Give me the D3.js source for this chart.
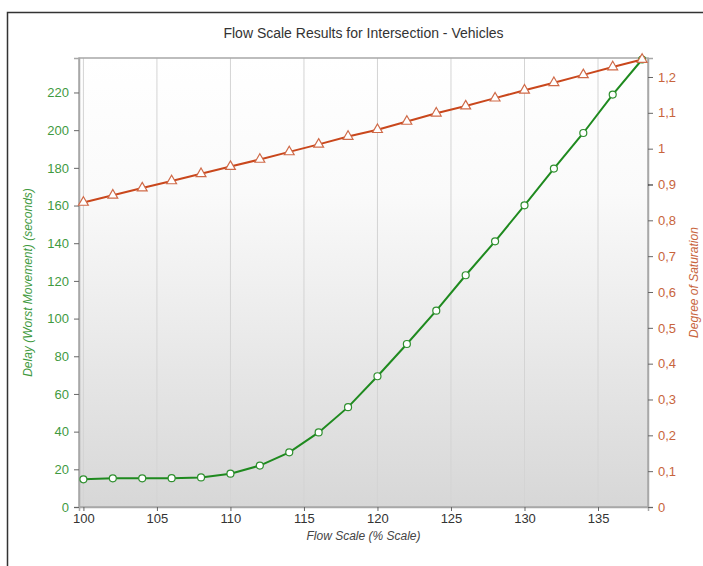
<!DOCTYPE html>
<html>
<head>
<meta charset="utf-8">
<script src="https://cdn.jsdelivr.net/npm/d3@7"></script>
<style>
  body { margin: 0; background: #fff; }
  text { font-family: "Liberation Sans", Arial, sans-serif; }
</style>
</head>
<body>
<div id="chart"></div>
<script>
const flowScale = [100, 102, 104, 106, 108, 110, 112, 114, 116, 118,
  120, 122, 124, 126, 128, 130, 132, 134, 136, 138];
const delay = [14.7, 15.2, 15.2, 15.3, 15.7, 17.7, 22, 29, 39.6, 53,
  69.4, 86.5, 104.2, 123, 141, 160.1, 179.6, 198.5, 218.9, 237.5];
const saturation = [0.85, 0.87, 0.89, 0.91, 0.93, 0.95, 0.97, 0.991, 1.012, 1.034,
  1.053, 1.076, 1.099, 1.119, 1.141, 1.163, 1.184, 1.206, 1.228, 1.249];
const xTicks = [100, 105, 110, 115, 120, 125, 130, 135];
const delayTicks = [0, 20, 40, 60, 80, 100, 120, 140, 160, 180, 200, 220];
const satTicks = [0, 0.1, 0.2, 0.3, 0.4, 0.5, 0.6, 0.7, 0.8, 0.9, 1, 1.1, 1.2];

const width = 703;
const height = 566;
const margin = { top: 58, right: 55, bottom: 59, left: 79 };
const innerW = width - margin.left - margin.right;
const innerH = height - margin.top - margin.bottom;

const green = '#1f8a1f';
const greenText = '#3f9a3f';
const orange = '#c9471c';
const orangeText = '#c8643c';

const svg = d3.select('#chart')
  .append('svg')
  .attr('width', width)
  .attr('height', height);

// outer frame
svg.append('rect')
  .attr('x', 7.5)
  .attr('y', 12.5)
  .attr('width', width)
  .attr('height', height)
  .attr('fill', 'none')
  .attr('stroke', '#333')
  .attr('stroke-width', 1.5);

const defs = svg.append('defs');
const bg = defs.append('linearGradient')
  .attr('id', 'plotBg')
  .attr('x1', '0%').attr('y1', '0%')
  .attr('x2', '0%').attr('y2', '100%');
bg.append('stop').attr('offset', '0%').attr('stop-color', '#ffffff');
bg.append('stop').attr('offset', '30%').attr('stop-color', '#fafafa');
bg.append('stop').attr('offset', '100%').attr('stop-color', '#d7d7d7');

const x = d3.scaleLinear().domain([99.7, 138.4]).range([0, innerW]);
const yL = d3.scaleLinear().domain([0, 238.3]).range([innerH, 0]);
const yR = d3.scaleLinear().domain([0, 1.253]).range([innerH, 0]);

const g = svg.append('g')
  .attr('transform', `translate(${margin.left},${margin.top})`);

g.append('rect')
  .attr('width', innerW)
  .attr('height', innerH)
  .attr('fill', 'url(#plotBg)');

// vertical grid
g.selectAll('.grid')
  .data(xTicks)
  .enter()
  .append('line')
  .attr('x1', (d) => x(d))
  .attr('x2', (d) => x(d))
  .attr('y1', 0)
  .attr('y2', innerH)
  .attr('stroke', '#d4d4d4');

g.append('rect')
  .attr('width', innerW)
  .attr('height', innerH)
  .attr('fill', 'none')
  .attr('stroke', '#a8a8a8')
  .attr('stroke-width', 1.5);

// axes
const xAxis = g.append('g')
  .attr('transform', `translate(0,${innerH})`)
  .call(d3.axisBottom(x).tickValues(xTicks).tickSize(4).tickPadding(3));
xAxis.select('.domain').attr('stroke', '#a8a8a8').attr('stroke-width', 1.5);
xAxis.selectAll('.tick line').attr('stroke', '#666');
xAxis.selectAll('.tick text').attr('fill', '#333').style('font-size', '13px');

const leftAxis = g.append('g')
  .call(d3.axisLeft(yL).tickValues(delayTicks).tickSize(5).tickPadding(5));
leftAxis.select('.domain').attr('stroke', '#a8a8a8').attr('stroke-width', 1.5);
leftAxis.selectAll('.tick line').attr('stroke', '#666');
leftAxis.selectAll('.tick text').attr('fill', greenText).style('font-size', '13px');

const fmtComma = (d) => String(d).replace('.', ',');
const rightAxis = g.append('g')
  .attr('transform', `translate(${innerW},0)`)
  .call(d3.axisRight(yR).tickValues(satTicks).tickFormat(fmtComma).tickSize(5).tickPadding(5));
rightAxis.select('.domain').attr('stroke', '#a8a8a8').attr('stroke-width', 1.5);
rightAxis.selectAll('.tick line').attr('stroke', (d) => (d === 0.9 ? '#111' : '#666'));
rightAxis.selectAll('.tick text').attr('fill', orangeText).style('font-size', '13px');

// delay series
const delayData = flowScale.map((f, i) => ({ f, v: delay[i] }));
const satData = flowScale.map((f, i) => ({ f, v: saturation[i] }));

g.append('path')
  .datum(delayData)
  .attr('fill', 'none')
  .attr('stroke', green)
  .attr('stroke-width', 2)
  .attr('d', d3.line().x((d) => x(d.f)).y((d) => yL(d.v)));

g.selectAll('.dot')
  .data(delayData)
  .enter()
  .append('circle')
  .attr('cx', (d) => x(d.f))
  .attr('cy', (d) => yL(d.v))
  .attr('r', 3.5)
  .attr('fill', '#fff')
  .attr('stroke', '#2e8f2e')
  .attr('stroke-width', 1.2);

// saturation series
g.append('path')
  .datum(satData)
  .attr('fill', 'none')
  .attr('stroke', orange)
  .attr('stroke-width', 2)
  .attr('d', d3.line().x((d) => x(d.f)).y((d) => yR(d.v)));

const tri = d3.symbol().type(d3.symbolTriangle).size(42);
g.selectAll('.tri')
  .data(satData)
  .enter()
  .append('path')
  .attr('transform', (d) => `translate(${x(d.f)},${yR(d.v)})`)
  .attr('d', tri)
  .attr('fill', '#fff')
  .attr('stroke', '#cf6a48')
  .attr('stroke-width', 1.2);

// titles
svg.append('text')
  .attr('x', margin.left + innerW / 2)
  .attr('y', 38)
  .attr('text-anchor', 'middle')
  .attr('fill', '#333')
  .style('font-size', '14px')
  .text('Flow Scale Results for Intersection - Vehicles');

svg.append('text')
  .attr('x', margin.left + innerW / 2)
  .attr('y', 540)
  .attr('text-anchor', 'middle')
  .attr('fill', '#444')
  .style('font-size', '12px')
  .style('font-style', 'italic')
  .text('Flow Scale (% Scale)');

svg.append('text')
  .attr('transform', `translate(32,${margin.top + innerH / 2}) rotate(-90)`)
  .attr('text-anchor', 'middle')
  .attr('fill', greenText)
  .style('font-size', '12px')
  .style('font-style', 'italic')
  .text('Delay (Worst Movement) (seconds)');

svg.append('text')
  .attr('transform', `translate(698,${margin.top + innerH / 2}) rotate(-90)`)
  .attr('text-anchor', 'middle')
  .attr('fill', orangeText)
  .style('font-size', '12px')
  .style('font-style', 'italic')
  .text('Degree of Saturation');
</script>
</body>
</html>
